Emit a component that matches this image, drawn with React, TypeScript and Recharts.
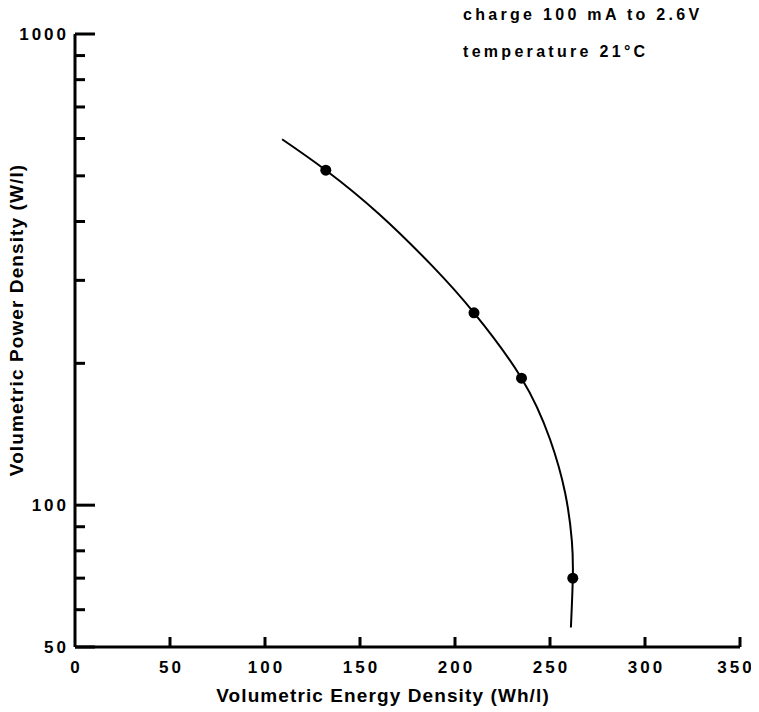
import React from 'react';
import { ComposedChart, Line, Scatter, XAxis, YAxis } from 'recharts';

// measured points (Wh/l, W/l)
const energy = [132, 210, 235, 262];
const power = [514, 256, 186, 70];

// fitted curve
const curveEnergy = [109, 132, 160, 188, 210, 235, 250, 258, 261.5, 262, 261];
const curvePower = [598, 514, 415, 322, 256, 186, 138, 106, 84, 70, 55];

const xTicks = [0, 50, 100, 150, 200, 250, 300, 350];
const yTicks = [50, 60, 70, 80, 90, 100, 200, 300, 400, 500, 600, 700, 800, 900, 1000];
const yLabelled = [50, 100, 1000];

const points = energy.map((x, i) => ({ x, y: power[i] }));
const curve = curveEnergy.map((x, i) => ({ x, y: curvePower[i] }));

const font = '"Liberation Sans", Arial, sans-serif';
const textStyle: React.CSSProperties = {
  position: 'absolute',
  fontFamily: font,
  fontWeight: 'bold',
  color: '#000',
  whiteSpace: 'nowrap',
};
const noteStyle: React.CSSProperties = { ...textStyle, fontSize: 16, letterSpacing: 3.3 };
const titleStyle: React.CSSProperties = { ...textStyle, fontSize: 19, letterSpacing: 1.1 };

const YTick = (props: any) => {
  const { x, y, payload } = props;
  const major = yLabelled.includes(payload.value);
  return (
    <g>
      <line x1={x} y1={y} x2={x + (major ? 20 : 10)} y2={y} stroke="#000" strokeWidth={3} />
      {major && (
        <text x={x - 6} y={y} dy={6} textAnchor="end" fontFamily={font} fontWeight="bold" fontSize={17} letterSpacing={3}>
          {payload.value}
        </text>
      )}
    </g>
  );
};

const XTick = (props: any) => {
  const { x, y, payload, index } = props;
  const last = index === xTicks.length - 1;
  return (
    <g>
      {payload.value > 0 && <line x1={x} y1={y} x2={x} y2={y - 10} stroke="#000" strokeWidth={3} />}
      <text x={last ? x - 4 : x + 1.5} y={y} dy={26} textAnchor="middle" fontFamily={font} fontWeight="bold" fontSize={17} letterSpacing={3}>
        {payload.value}
      </text>
    </g>
  );
};

export default function App() {
  return (
    <div style={{ position: 'relative', width: 751, height: 700 }}>
      <ComposedChart width={751} height={700} margin={{ top: 26, right: 19, bottom: 0, left: 0 }}>
        <XAxis
          type="number"
          dataKey="x"
          domain={[0, 350]}
          ticks={xTicks}
          interval={0}
          height={61}
          tickSize={0}
          tickMargin={0}
          axisLine={{ stroke: '#000', strokeWidth: 3 }}
          tick={<XTick />}
        />
        <YAxis
          type="number"
          dataKey="y"
          scale="log"
          domain={[50, 1000]}
          allowDataOverflow
          ticks={yTicks}
          interval={0}
          width={67}
          tickSize={0}
          tickMargin={0}
          axisLine={{ stroke: '#000', strokeWidth: 3 }}
          tick={<YTick />}
        />
        <Line
          data={curve}
          dataKey="y"
          type="natural"
          stroke="#000"
          strokeWidth={2}
          dot={false}
          isAnimationActive={false}
        />
        <Scatter data={points} dataKey="y" fill="#000" shape={(p: any) => <circle cx={p.cx} cy={p.cy} r={5.5} fill="#000" />} isAnimationActive={false} />
      </ComposedChart>
      <div style={{ ...noteStyle, left: 455, top: -2 }}>charge 100 mA to 2.6V</div>
      <div style={{ ...noteStyle, left: 455, top: 35 }}>temperature 21°C</div>
      <div style={{ ...titleStyle, left: 375, top: 677, transform: 'translateX(-50%)' }}>Volumetric Energy Density (Wh/l)</div>
      <div style={{ ...titleStyle, left: 9, top: 312, transform: 'translate(-50%, -50%) rotate(-90deg)' }}>
        Volumetric Power Density (W/l)
      </div>
    </div>
  );
}
